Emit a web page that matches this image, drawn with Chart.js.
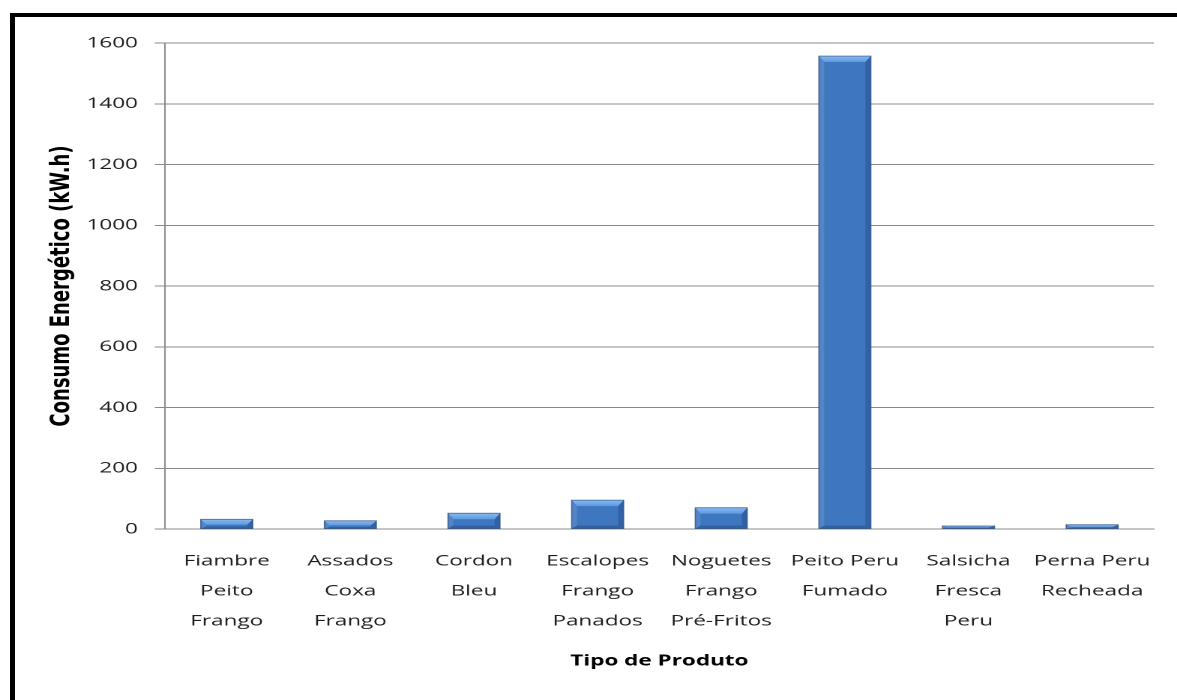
<!DOCTYPE html>
<html lang="pt">
<head>
<meta charset="utf-8">
<title>Consumo Energético por Tipo de Produto</title>
<script src="https://cdn.jsdelivr.net/npm/chart.js@4.4.1/dist/chart.umd.min.js"></script>
<style>
  html, body { margin: 0; padding: 0; background: #ffffff; overflow: hidden; }
  body { width: 1177px; height: 700px; position: relative; }
  #frame {
    position: absolute; left: 10px; top: 13px; width: 1300px; height: 800px;
    border-left: 5px solid #000; border-top: 4px solid #000; box-sizing: border-box;
  }
  #wrap {
    position: absolute; left: 0; top: 0; width: 785px; height: 700px;
    transform: scaleX(1.4994); transform-origin: 0 0;
  }
</style>
</head>
<body>
<div id="frame"></div>
<div id="wrap"><canvas id="chart" width="785" height="700"></canvas></div>
<script>
// Product categories (multi-line labels)
const categories = [
  ["Fiambre", "Peito", "Frango"],
  ["Assados", "Coxa", "Frango"],
  ["Cordon", "Bleu"],
  ["Escalopes", "Frango", "Panados"],
  ["Noguetes", "Frango", "Pré-Fritos"],
  ["Peito Peru", "Fumado"],
  ["Salsicha", "Fresca", "Peru"],
  ["Perna Peru", "Recheada"]
];

// Energy consumption per product (kW.h)
const consumo = [32, 27, 52, 95, 70, 1557, 10, 14];

const yTitle = "Consumo Energético (kW.h)";
const xTitle = "Tipo de Produto";

const gridColor = "#8a8a8a";
const textColor = "#1e1e1e";

// Bevel overlay for the bars
const bevelPlugin = {
  id: "bevel",
  afterDatasetsDraw(chart) {
    const ctx = chart.ctx;
    const meta = chart.getDatasetMeta(0);
    meta.data.forEach((bar) => {
      const left = bar.x - bar.width / 2;
      const right = bar.x + bar.width / 2;
      const top = Math.min(bar.y, bar.base);
      const bottom = Math.max(bar.y, bar.base);
      const h = bottom - top;
      const bv = Math.min(6, h * 0.6);
      const bb = Math.min(3, h * 0.2);
      const bh = Math.min(3.6, bar.width / 4);
      ctx.save();
      // top face
      const gTop = ctx.createLinearGradient(0, top, 0, top + bv);
      gTop.addColorStop(0, "#88baf1");
      gTop.addColorStop(1, "#5e99e0");
      ctx.fillStyle = gTop;
      ctx.beginPath();
      ctx.moveTo(left, top); ctx.lineTo(right, top);
      ctx.lineTo(right - bh, top + bv); ctx.lineTo(left + bh, top + bv);
      ctx.closePath(); ctx.fill();
      // left face
      ctx.fillStyle = "rgba(255,255,255,0.10)";
      ctx.beginPath();
      ctx.moveTo(left, top); ctx.lineTo(left + bh, top + bv);
      ctx.lineTo(left + bh, bottom - bb); ctx.lineTo(left, bottom);
      ctx.closePath(); ctx.fill();
      // right face
      ctx.fillStyle = "rgba(0,20,60,0.20)";
      ctx.beginPath();
      ctx.moveTo(right, top); ctx.lineTo(right - bh, top + bv);
      ctx.lineTo(right - bh, bottom - bb); ctx.lineTo(right, bottom);
      ctx.closePath(); ctx.fill();
      // bottom face
      ctx.fillStyle = "rgba(0,20,60,0.22)";
      ctx.beginPath();
      ctx.moveTo(left, bottom); ctx.lineTo(right, bottom);
      ctx.lineTo(right - bh, bottom - bb); ctx.lineTo(left + bh, bottom - bb);
      ctx.closePath(); ctx.fill();
      // outline
      ctx.strokeStyle = "rgba(45,80,130,0.8)";
      ctx.lineWidth = 0.8;
      ctx.strokeRect(left, top, right - left, h);
      ctx.restore();
    });
  }
};

new Chart(document.getElementById("chart"), {
  type: "bar",
  data: {
    labels: categories,
    datasets: [{
      label: yTitle,
      data: consumo,
      backgroundColor(context) {
        const chart = context.chart;
        const area = chart.chartArea;
        if (!area) return "#3c70b8";
        const el = context.element;
        const top = el ? el.y : area.top;
        const bottom = el ? el.base : area.bottom;
        if (!(bottom > top + 1)) return "#3f76c0";
        const g = chart.ctx.createLinearGradient(0, top, 0, bottom);
        g.addColorStop(0, "#4681cd");
        g.addColorStop(1, "#3263a3");
        return g;
      },
      borderWidth: 0,
      categoryPercentage: 1,
      barPercentage: 0.42
    }]
  },
  options: {
    responsive: false,
    animation: false,
    devicePixelRatio: 2,
    layout: { padding: { top: 43, right: 12, left: 0, bottom: 0 } },
    plugins: {
      legend: { display: false },
      tooltip: { enabled: false }
    },
    scales: {
      x: {
        grid: { display: false, drawTicks: false },
        border: { display: true, color: gridColor, width: 1 },
        ticks: {
          color: textColor,
          padding: 17,
          maxRotation: 0,
          autoSkip: false,
          font: { family: "'Open Sans'", size: 15, lineHeight: 2 }
        },
        title: {
          display: true,
          text: xTitle,
          color: "#000",
          padding: { top: 0, bottom: 30 },
          font: { family: "'Open Sans'", size: 15, weight: "bold", lineHeight: 1.2 }
        },
        afterFit(scale) { scale.height = 171; }
      },
      y: {
        min: 0,
        max: 1600,
        ticks: {
          stepSize: 200,
          color: textColor,
          padding: 11.3,
          font: { family: "'Open Sans'", size: 15 },
          callback: (value) => String(value)
        },
        grid: { color: gridColor, lineWidth: 1, tickLength: 6.7, drawTicks: true },
        border: { display: true, color: gridColor, width: 1 },
        title: {
          display: true,
          text: yTitle,
          color: "#000",
          padding: { top: 30.5, bottom: 0 },
          font: { family: "'DejaVu Sans'", size: 18, weight: "bold", lineHeight: 1.2 }
        },
        afterFit(scale) { scale.width = 110; }
      }
    }
  },
  plugins: [bevelPlugin]
});
</script>
</body>
</html>
